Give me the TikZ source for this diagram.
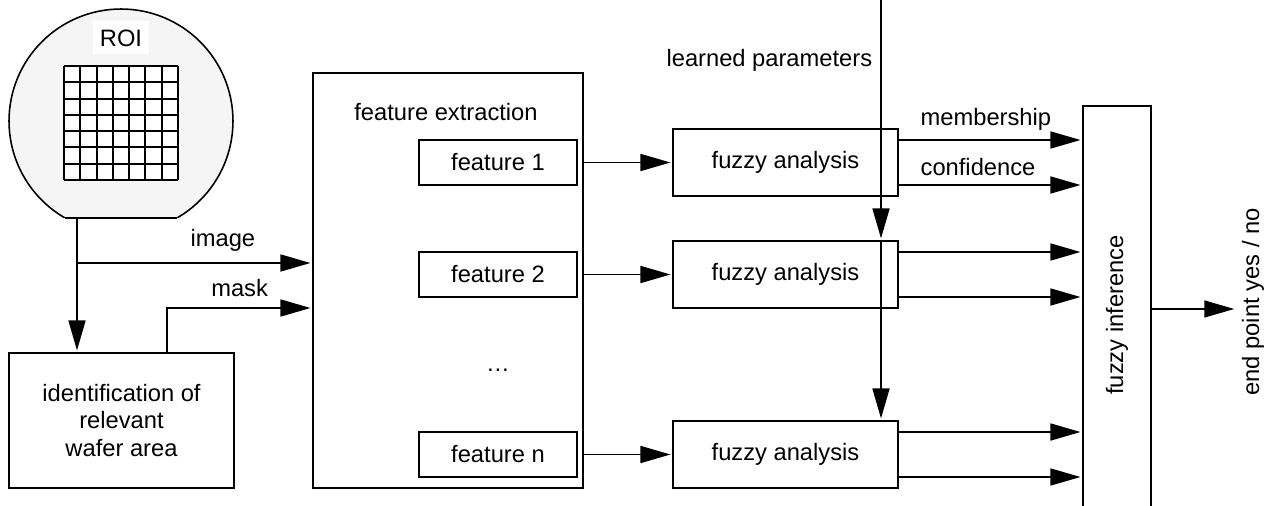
\documentclass[tikz,border=0pt]{standalone}
\usepackage{fontspec}
\setmainfont{Liberation Sans}
\usepackage{tikz}
\usetikzlibrary{positioning,arrows.meta,calc}
\usepackage{xcolor}

\begin{document}
\begin{tikzpicture}[
    x=0.02cm, y=-0.02cm,
    line width=0.9pt,
    box/.style={draw, fill=white, font=\fontsize{13.5}{15.5}\selectfont, align=center, inner sep=0pt},
    featbox/.style={box, minimum width=3.16cm, minimum height=0.9cm},
    fuzzybox/.style={box, minimum width=4.5cm, minimum height=1.34cm},
    arrow/.style={-{Triangle[length=0.6cm, width=0.34cm]}, shorten >=1pt},
    label/.style={font=\fontsize{13.5}{15.5}\selectfont, inner sep=0pt}
]
\clip (0,0) rectangle (1273,506);

% Wafer with ROI grid
\begin{scope}
    \clip (0,0) rectangle (250,218);
    \node[circle, draw, fill=black!4, minimum size=4.48cm, inner sep=0pt] (wafer) at (121,121) {};
\end{scope}
\draw (65,218) -- (177,218);
\node[label, fill=white, minimum width=1.14cm, minimum height=0.66cm] (roi) at (121,38) {ROI};
\fill[white] (64,66) rectangle (178,180);
\foreach \i in {0,...,7} {
    \draw[line width=1.1pt] (64+\i*16.29,66) -- (64+\i*16.29,180);
    \draw[line width=1.1pt] (64,66+\i*16.29) -- (178,66+\i*16.29);
}
\coordinate (wflat) at (77,218);
\coordinate (split) at (77,263);

% Identification
\node[box, minimum width=4.5cm, minimum height=2.7cm] (ident) at (121.5,420.5) {identification of\\relevant\\wafer area};

% Feature extraction
\node[box, minimum width=5.4cm, minimum height=8.3cm] (fext) at (448,280.5) {};
\node[label] (fextlbl) at (446,112) {feature extraction};
\node[featbox] (f1) at (498,162.5) {feature 1};
\node[featbox] (f2) at (498,274.5) {feature 2};
\node[label] (fdots) at (498,370) {\ldots};
\node[featbox] (fn) at (498,454.5) {feature n};

% Fuzzy analysis
\node[fuzzybox] (fz1) at (785.5,162.5) {fuzzy analysis};
\node[fuzzybox] (fz2) at (785.5,274.5) {fuzzy analysis};
\node[fuzzybox] (fz3) at (785.5,454.5) {fuzzy analysis};

% Fuzzy inference
\node[box, minimum width=1.36cm, minimum height=8.36cm] (inf) at (1117,315) {};
\node[label, rotate=90] (inflbl) at (1117,315) {fuzzy inference};

% Learned parameters
\coordinate (lp) at (881,0);
\node[label, anchor=east] (lplbl) at (873,60) {learned parameters};

% Output
\coordinate (out) at (1236,309);
\node[label, rotate=90] (outlbl) at (1253,302) {end point yes / no};

% Arrows
\draw (wflat) -- (split);
\draw[arrow] (split) -- (ident.north -| split);
\draw[arrow] (split) -- (split -| fext.west) node[label, pos=0.62, above=6pt] {image};
\draw[arrow] (ident.north -| 167,0) |- ($(fext.west |- 0,308)$) node[label, pos=0.75, above=6pt] {mask};

\draw[arrow] (fext.east |- f1) -- (fz1);
\draw[arrow] (fext.east |- f2) -- (fz2);
\draw[arrow] (fext.east |- fn) -- (fz3);

\draw[arrow] (lp) -- (lp |- fz2.north);
\draw[arrow] (lp |- fz2.north) -- (lp |- fz3.north);

\draw[arrow] ([yshift=0.45cm]fz1.east) -- ([yshift=0.45cm]fz1.east -| inf.west) node[label, anchor=south west, pos=0, xshift=12pt, yshift=5pt] {membership};
\draw[arrow] ([yshift=-0.45cm]fz1.east) -- ([yshift=-0.45cm]fz1.east -| inf.west) node[label, anchor=south west, pos=0, xshift=12pt, yshift=5pt] {confidence};
\draw[arrow] ([yshift=0.45cm]fz2.east) -- ([yshift=0.45cm]fz2.east -| inf.west);
\draw[arrow] ([yshift=-0.45cm]fz2.east) -- ([yshift=-0.45cm]fz2.east -| inf.west);
\draw[arrow] ([yshift=0.45cm]fz3.east) -- ([yshift=0.45cm]fz3.east -| inf.west);
\draw[arrow] ([yshift=-0.45cm]fz3.east) -- ([yshift=-0.45cm]fz3.east -| inf.west);

\draw[arrow] (inf.east |- out) -- (out);

\end{tikzpicture}
\end{document}
